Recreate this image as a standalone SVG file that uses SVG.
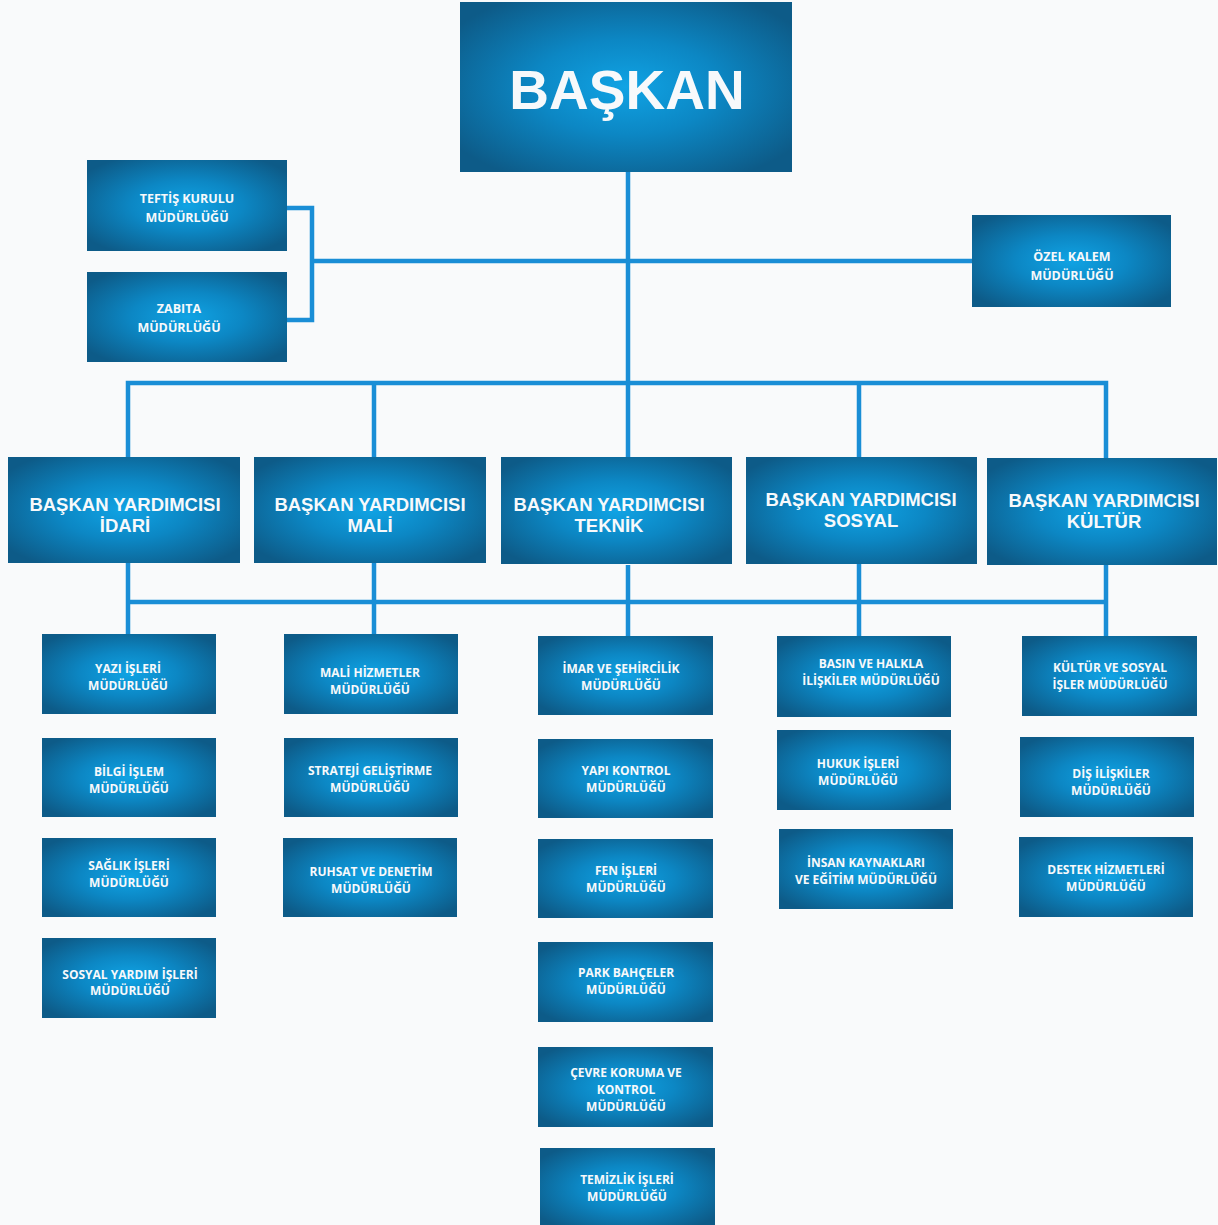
<svg xmlns="http://www.w3.org/2000/svg" width="1218" height="1225" viewBox="0 0 1218 1225">
<style>
.bg{fill:#f9fafb}
.box{fill:url(#g)}
.ln{fill:none;stroke:#1a8ed6;stroke-width:4.5}
.t{fill:#f7f9fb;text-anchor:middle;font-weight:bold}
.big{font-family:"Liberation Sans",Arial,sans-serif;font-size:55px}
.vp{font-family:"Liberation Sans",Arial,sans-serif;font-size:18.5px}
.s{font-family:"Open Sans","Noto Sans",sans-serif;font-size:12px}
.m{font-family:"Open Sans","Noto Sans",sans-serif;font-size:12.5px}
</style>
<defs>
<radialGradient id="g" cx="0.5" cy="0.5" r="0.62">
<stop offset="0" stop-color="#10a3e4"/>
<stop offset="0.45" stop-color="#0c87c4"/>
<stop offset="1" stop-color="#0d5b88"/>
</radialGradient>
</defs>
<rect class="bg" x="0" y="0" width="1218" height="1225"/>
<g id="connectors">
<path class="ln" d="M628 172V383"/>
<path class="ln" d="M287 208H312V320H287"/>
<path class="ln" d="M312 261H972"/>
<path class="ln" d="M128 458V383H1106V458"/>
<path class="ln" d="M374 383V458M628 383V458M859 383V458"/>
<path class="ln" d="M128 602H1106"/>
<path class="ln" d="M128 563V635M374 563V635M628 565V636M859 563V636M1106 565V636"/>
</g>
<g id="baskan"><rect class="box" x="460" y="2" width="332" height="170"/><text class="t big" x="627" y="109">BAŞKAN</text></g>
<g id="teftis"><rect class="box" x="87" y="160" width="200" height="91"/><text class="t m" x="187" y="203">TEFTİŞ KURULU</text><text class="t m" x="187" y="222">MÜDÜRLÜĞÜ</text></g>
<g id="zabita"><rect class="box" x="87" y="272" width="200" height="90"/><text class="t m" x="179" y="313">ZABITA</text><text class="t m" x="179" y="332">MÜDÜRLÜĞÜ</text></g>
<g id="ozel-kalem"><rect class="box" x="972" y="215" width="199" height="92"/><text class="t m" x="1072" y="261">ÖZEL KALEM</text><text class="t m" x="1072" y="280">MÜDÜRLÜĞÜ</text></g>
<g id="vp-idari"><rect class="box" x="8" y="457" width="232" height="106"/><text class="t vp" x="125" y="511">BAŞKAN YARDIMCISI</text><text class="t vp" x="125" y="532">İDARİ</text></g>
<g id="vp-mali"><rect class="box" x="254" y="457" width="232" height="106"/><text class="t vp" x="370" y="511">BAŞKAN YARDIMCISI</text><text class="t vp" x="370" y="532">MALİ</text></g>
<g id="vp-teknik"><rect class="box" x="501" y="457" width="231" height="107"/><text class="t vp" x="609" y="511">BAŞKAN YARDIMCISI</text><text class="t vp" x="609" y="532">TEKNİK</text></g>
<g id="vp-sosyal"><rect class="box" x="746" y="457" width="231" height="107"/><text class="t vp" x="861" y="506">BAŞKAN YARDIMCISI</text><text class="t vp" x="861" y="527">SOSYAL</text></g>
<g id="vp-kultur"><rect class="box" x="987" y="458" width="230" height="107"/><text class="t vp" x="1104" y="507">BAŞKAN YARDIMCISI</text><text class="t vp" x="1104" y="528">KÜLTÜR</text></g>
<g id="yazi"><rect class="box" x="42" y="634" width="174" height="80"/><text class="t s" x="128" y="673">YAZI İŞLERİ</text><text class="t s" x="128" y="690">MÜDÜRLÜĞÜ</text></g>
<g id="bilgi"><rect class="box" x="42" y="738" width="174" height="79"/><text class="t s" x="129" y="776">BİLGİ İŞLEM</text><text class="t s" x="129" y="793">MÜDÜRLÜĞÜ</text></g>
<g id="saglik"><rect class="box" x="42" y="838" width="174" height="79"/><text class="t s" x="129" y="870">SAĞLIK İŞLERİ</text><text class="t s" x="129" y="887">MÜDÜRLÜĞÜ</text></g>
<g id="sosyal-yardim"><rect class="box" x="42" y="938" width="174" height="80"/><text class="t s" x="130" y="979">SOSYAL YARDIM İŞLERİ</text><text class="t s" x="130" y="995">MÜDÜRLÜĞÜ</text></g>
<g id="mali-hizmetler"><rect class="box" x="284" y="634" width="174" height="80"/><text class="t s" x="370" y="677">MALİ HİZMETLER</text><text class="t s" x="370" y="694">MÜDÜRLÜĞÜ</text></g>
<g id="strateji"><rect class="box" x="284" y="738" width="174" height="79"/><text class="t s" x="370" y="775">STRATEJİ GELİŞTİRME</text><text class="t s" x="370" y="792">MÜDÜRLÜĞÜ</text></g>
<g id="ruhsat"><rect class="box" x="283" y="838" width="174" height="79"/><text class="t s" x="371" y="876">RUHSAT VE DENETİM</text><text class="t s" x="371" y="893">MÜDÜRLÜĞÜ</text></g>
<g id="imar"><rect class="box" x="538" y="636" width="175" height="79"/><text class="t s" x="621" y="673">İMAR VE ŞEHİRCİLİK</text><text class="t s" x="621" y="690">MÜDÜRLÜĞÜ</text></g>
<g id="yapi-kontrol"><rect class="box" x="538" y="739" width="175" height="79"/><text class="t s" x="626" y="775">YAPI KONTROL</text><text class="t s" x="626" y="792">MÜDÜRLÜĞÜ</text></g>
<g id="fen"><rect class="box" x="538" y="839" width="175" height="79"/><text class="t s" x="626" y="875">FEN İŞLERİ</text><text class="t s" x="626" y="892">MÜDÜRLÜĞÜ</text></g>
<g id="park"><rect class="box" x="538" y="942" width="175" height="80"/><text class="t s" x="626" y="977">PARK BAHÇELER</text><text class="t s" x="626" y="994">MÜDÜRLÜĞÜ</text></g>
<g id="cevre"><rect class="box" x="538" y="1047" width="175" height="80"/><text class="t s" x="626" y="1077">ÇEVRE KORUMA VE</text><text class="t s" x="626" y="1094">KONTROL</text><text class="t s" x="626" y="1111">MÜDÜRLÜĞÜ</text></g>
<g id="temizlik"><rect class="box" x="540" y="1148" width="175" height="80"/><text class="t s" x="627" y="1184">TEMİZLİK İŞLERİ</text><text class="t s" x="627" y="1201">MÜDÜRLÜĞÜ</text></g>
<g id="basin"><rect class="box" x="777" y="636" width="174" height="81"/><text class="t s" x="871" y="668">BASIN VE HALKLA</text><text class="t s" x="871" y="685">İLİŞKİLER MÜDÜRLÜĞÜ</text></g>
<g id="hukuk"><rect class="box" x="777" y="730" width="174" height="80"/><text class="t s" x="858" y="768">HUKUK İŞLERİ</text><text class="t s" x="858" y="785">MÜDÜRLÜĞÜ</text></g>
<g id="insan"><rect class="box" x="779" y="829" width="174" height="80"/><text class="t s" x="866" y="867">İNSAN KAYNAKLARI</text><text class="t s" x="866" y="884">VE EĞİTİM MÜDÜRLÜĞÜ</text></g>
<g id="kultur-sosyal"><rect class="box" x="1022" y="636" width="175" height="80"/><text class="t s" x="1110" y="672">KÜLTÜR VE SOSYAL</text><text class="t s" x="1110" y="689">İŞLER MÜDÜRLÜĞÜ</text></g>
<g id="dis"><rect class="box" x="1020" y="737" width="174" height="80"/><text class="t s" x="1111" y="778">DİŞ İLİŞKİLER</text><text class="t s" x="1111" y="795">MÜDÜRLÜĞÜ</text></g>
<g id="destek"><rect class="box" x="1019" y="837" width="174" height="80"/><text class="t s" x="1106" y="874">DESTEK HİZMETLERİ</text><text class="t s" x="1106" y="891">MÜDÜRLÜĞÜ</text></g>
</svg>
